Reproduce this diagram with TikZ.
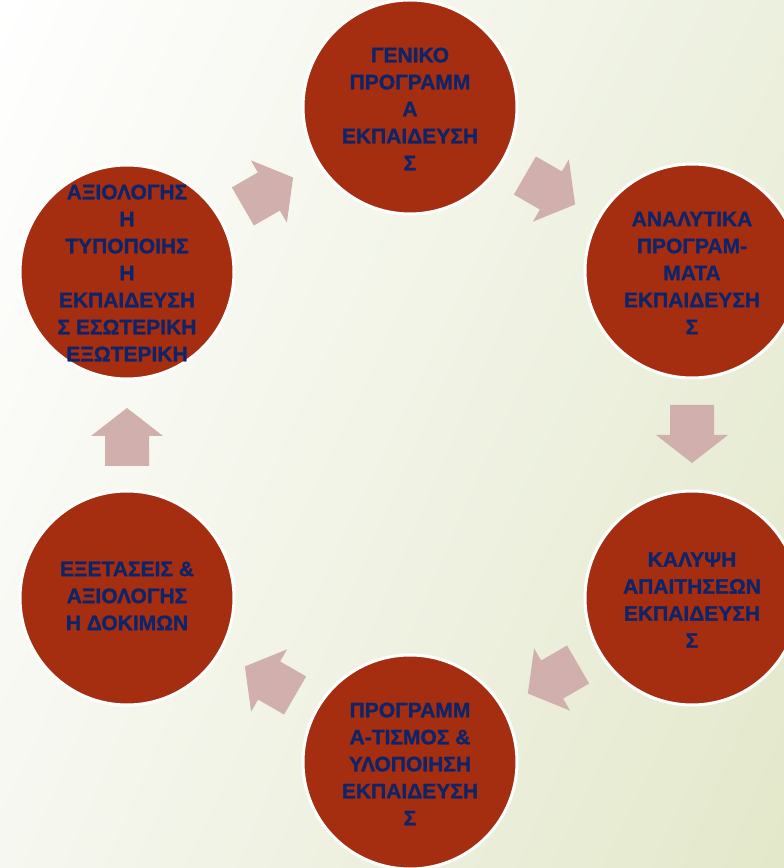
\documentclass[tikz,border=0pt]{standalone}
\usepackage{fontspec}
\setmainfont{Liberation Sans}
\newfontfamily\heavyfont{Liberation Sans}[UprightFont=*-Bold, FakeBold=1.2]
\usetikzlibrary{shadings}
\definecolor{circfill}{RGB}{165,46,17}
\definecolor{txtblue}{RGB}{14,36,104}
\definecolor{arrpink}{RGB}{209,175,173}
\definecolor{bgUL}{RGB}{255,255,255}
\definecolor{bgLL}{RGB}{246,247,240}
\definecolor{bgUR}{RGB}{236,240,222}
\definecolor{bgLR}{RGB}{227,232,202}
\newcommand\blockarr[2]{\fill[arrow piece, shift={#1}, rotate=#2] (-29,-22) -- (1,-22) -- (1,-36) -- (29,0) -- (1,36) -- (1,22) -- (-29,22) -- cycle;}
\tikzset{
  circ/.style={circle, fill=circfill, draw=white, line width=3pt, minimum size=214pt, inner sep=0pt},
  txt/.style={align=center, text=txtblue, font=\heavyfont\fontsize{21}{27}\selectfont, inner sep=0pt},
  arrow piece/.style={fill=arrpink}
}
\begin{document}
\begin{tikzpicture}[x=1pt,y=1pt]
\useasboundingbox (0,0) rectangle (784,868);
\clip (0,0) rectangle (784,868);
\shade[upper left=bgUL, lower left=bgLL, upper right=bgUR, lower right=bgLR] (0,0) rectangle (784,868);

\node[circ] (gen) at (410,761) {};
\node[circ] (ana) at (692,597) {};
\node[circ] (kal) at (692,270) {};
\node[circ] (pro) at (410,106) {};
\node[circ] (exe) at (127,270) {};
\node[circ] (axi) at (127,596) {};

\node[txt] at ([yshift=-2pt]gen.center) {ΓΕΝΙΚΟ\\ΠΡΟΓΡΑΜΜ\\Α\\ΕΚΠΑΙΔΕΥΣΗ\\Σ};
\node[txt] at ([yshift=-2pt]ana.center) {ΑΝΑΛΥΤΙΚΑ\\ΠΡΟΓΡΑΜ-\\ΜΑΤΑ\\ΕΚΠΑΙΔΕΥΣΗ\\Σ};
\node[txt] at ([yshift=-2pt]kal.center) {ΚΑΛΥΨΗ\\ΑΠΑΙΤΗΣΕΩΝ\\ΕΚΠΑΙΔΕΥΣΗ\\Σ};
\node[txt] at ([yshift=-2pt]pro.center) {ΠΡΟΓΡΑΜΜ\\Α-ΤΙΣΜΟΣ \&\\ΥΛΟΠΟΙΗΣΗ\\ΕΚΠΑΙΔΕΥΣΗ\\Σ};
\node[txt] at ([yshift=2pt]exe.center) {ΕΞΕΤΑΣΕΙΣ \&\\ΑΞΙΟΛΟΓΗΣ\\Η ΔΟΚΙΜΩΝ};
\node[txt] at ([yshift=-1pt]axi.center) {ΑΞΙΟΛΟΓΗΣ\\Η\\ΤΥΠΟΠΟΙΗΣ\\Η\\ΕΚΠΑΙΔΕΥΣΗ\\Σ ΕΣΩΤΕΡΙΚΗ\\ΕΞΩΤΕΡΙΚΗ};

\blockarr{(268,676)}{30}
\blockarr{(550,678)}{-30}
\blockarr{(692,434)}{-90}
\blockarr{(553,189)}{-150}
\blockarr{(270,187)}{150}
\blockarr{(127,431)}{90}
\end{tikzpicture}
\end{document}
